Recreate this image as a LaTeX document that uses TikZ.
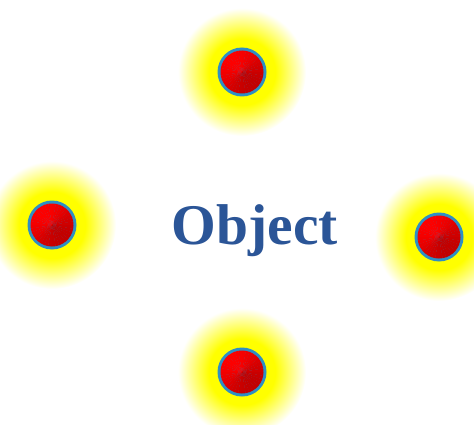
\documentclass[tikz,border=0pt]{standalone}
\usepackage{fontspec}
\usepackage{tikz}
\setmainfont{Liberation Serif}

\definecolor{objblue}{HTML}{2B5597}
\definecolor{rimblue}{HTML}{2E8FC4}
\pgfdeclareradialshading{glow}{\pgfpoint{0bp}{0bp}}{%
  color(0bp)=(yellow); color(13bp)=(yellow); color(25bp)=(white); color(50bp)=(white)}

\begin{document}
\begin{tikzpicture}[x=1pt, y=-1pt,
    halo/.style={shading=glow},
    rim/.style={fill=rimblue},
    lbl/.style={font=\fontsize{57.5}{60}\selectfont\bfseries, text=objblue, inner sep=0pt},
  ]
  \useasboundingbox (0,0) rectangle (474,425);
  % the four balls, each with a yellow glow behind it
  \coordinate (top) at (242,72);
  \coordinate (left) at (52,225);
  \coordinate (right) at (439,237);
  \coordinate (bottom) at (242,372);
  \begin{scope}
    \clip (0,0) rectangle (474,425);
    \foreach \c in {top,left,right,bottom}
      \shade[halo] (\c) circle (64);
  \end{scope}
  \foreach \c in {top,left,right,bottom} {
    \fill[rim] (\c) circle (24.5);
    % brushed red face, lighter towards the upper left
    \foreach \a in {0,10,...,350} {
      \pgfmathsetmacro\m{int(88+12*cos(\a-225))}
      \fill[red!\m!black] (\c) -- ++(\a:21.5) arc[start angle=\a, end angle=\a+10.5, radius=21.5] -- cycle;
    }
  }
  \node[lbl, anchor=base] (obj) at (255,244) {Object};
\end{tikzpicture}
\end{document}
